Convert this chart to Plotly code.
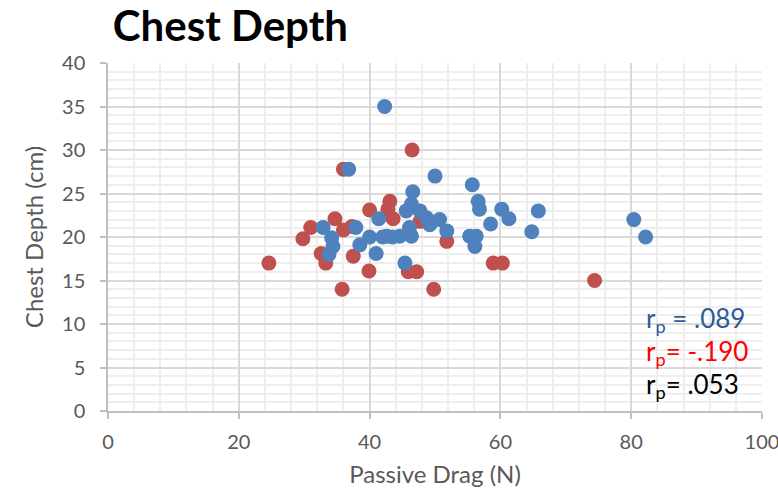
import plotly.graph_objects as go

# Passive drag (N) vs chest depth (cm), two groups
red_drag = [46.5, 36.0, 43.1, 42.8, 40.0, 34.7, 31.0, 29.8, 32.6, 33.3, 37.5, 39.9,
            35.8, 45.9, 47.2, 49.8, 58.9, 60.3, 74.4, 51.8, 24.6, 36.0, 37.3, 43.6, 47.7]
red_depth = [30.0, 27.8, 24.1, 23.2, 23.1, 22.1, 21.1, 19.8, 18.1, 17.0, 17.8, 16.1,
             14.0, 16.0, 16.0, 14.0, 17.0, 17.0, 15.0, 19.5, 17.0, 20.8, 21.2, 22.1, 21.8]

blue_drag = [42.3, 36.8, 50.0, 55.7, 46.6, 46.4, 45.6, 47.7, 48.7, 49.2, 50.7, 51.8,
             46.1, 46.4, 44.6, 42.6, 43.5, 42.0, 40.0, 38.5, 41.4, 37.9, 32.9, 34.2,
             34.4, 33.8, 41.0, 45.4, 56.6, 56.8, 60.2, 61.3, 58.5, 65.8, 64.8, 55.3,
             56.3, 56.1, 80.4, 82.2]
blue_depth = [35.0, 27.8, 27.0, 26.0, 25.2, 23.8, 23.0, 23.0, 22.2, 21.4, 22.0, 20.7,
              21.1, 20.1, 20.1, 20.1, 20.0, 20.0, 20.0, 19.1, 22.1, 21.1, 21.1, 19.9,
              18.9, 18.0, 18.1, 17.0, 24.1, 23.2, 23.2, 22.1, 21.5, 23.0, 20.6, 20.1,
              20.1, 18.9, 22.0, 20.0]

x_ticks = [0, 20, 40, 60, 80, 100]
y_ticks = [0, 5, 10, 15, 20, 25, 30, 35, 40]

corr_labels = ["r<sub>p</sub> = .089", "r<sub>p</sub>= -.190", "r<sub>p</sub>= .053"]
corr_colors = ["#2E5C94", "#FF0000", "#000000"]

FONT = "Lato"

fig = go.Figure()
fig.add_trace(go.Scatter(x=red_drag, y=red_depth, mode="markers",
                         marker=dict(size=15, color="#C0504D", line=dict(width=0)),
                         showlegend=False))
fig.add_trace(go.Scatter(x=blue_drag, y=blue_depth, mode="markers",
                         marker=dict(size=15, color="#4F81BD", line=dict(width=0)),
                         showlegend=False))

axis_common = dict(
    showline=True, linecolor="#BFBFBF", linewidth=1.5,
    showgrid=True, gridcolor="#D9D9D9", gridwidth=1.5,
    ticks="outside", ticklen=6, tickcolor="#BFBFBF", tickwidth=1.5,
    tickfont=dict(family=FONT, size=20, color="#595959"),
    zeroline=False, mirror=False, automargin=False,
    ticklabeloverflow="allow",
)

fig.update_xaxes(range=[0, 100], tickvals=x_ticks, **axis_common,
                 ticklabelstandoff=6,
                 minor=dict(dtick=4, showgrid=True, gridcolor="#EEEEEE", gridwidth=1.5),
                 title=dict(text="Passive Drag (N)", standoff=14,
                            font=dict(family=FONT, size=24, color="#595959")))
fig.update_yaxes(range=[0, 40], tickvals=y_ticks, **axis_common,
                 ticklabelstandoff=11,
                 minor=dict(dtick=1, showgrid=True, gridcolor="#EEEEEE", gridwidth=1.5),
                 title=dict(text="Chest Depth (cm)", standoff=12,
                            font=dict(family=FONT, size=24, color="#595959")))

for i, (txt, col) in enumerate(zip(corr_labels, corr_colors)):
    fig.add_annotation(x=0.820, y=0.263 - i * 0.095, xref="paper", yref="paper",
                       xanchor="left", yanchor="middle", text=txt, showarrow=False,
                       font=dict(family=FONT, size=26, color=col))

fig.update_layout(
    width=778, height=499,
    margin=dict(l=108, r=16, t=63, b=88),
    paper_bgcolor="white", plot_bgcolor="white",
    title=dict(text="<b>Chest Depth</b>", x=0.145, xanchor="left", y=0.947, yanchor="middle",
               font=dict(family=FONT, size=42, color="#000000")),
)

fig.write_html("out.html")
